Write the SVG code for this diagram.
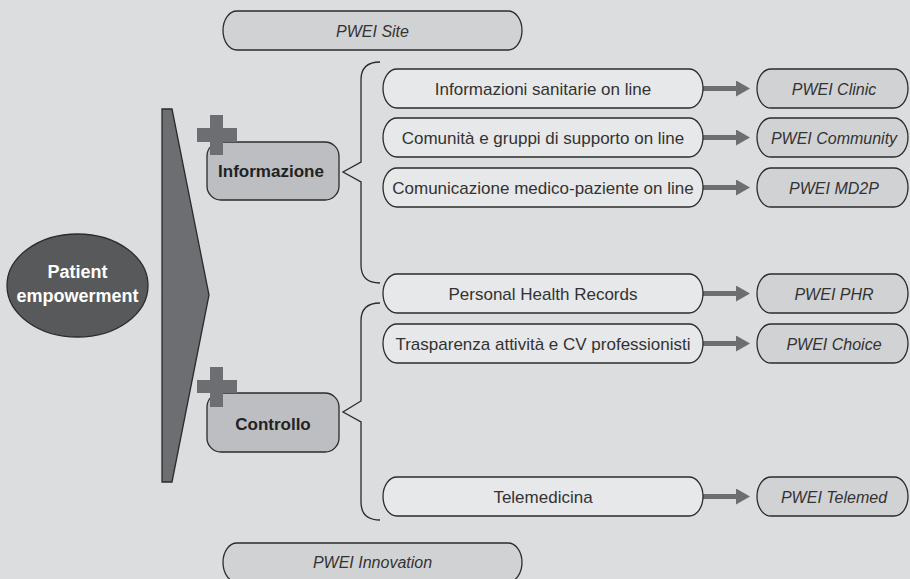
<svg xmlns="http://www.w3.org/2000/svg" width="910" height="579" viewBox="0 0 910 579">
<defs>
<style>
.bg{fill:#dcdddf}
.pill{fill:#e7e8e9;stroke:#2b2b2b;stroke-width:1.3}
.pwei{fill:#d1d2d4;stroke:#2b2b2b;stroke-width:1.3}
.box{fill:#bdbec1;stroke:#2b2b2b;stroke-width:1.3}
.plus{fill:#6d6e71}
.t{font-family:"Liberation Sans",Arial,sans-serif;font-size:17px;fill:#333;text-anchor:middle}
.ti{font-family:"Liberation Sans",Arial,sans-serif;font-size:16px;font-style:italic;fill:#333;text-anchor:middle}
.tb{font-family:"Liberation Sans",Arial,sans-serif;font-size:17px;font-weight:bold;fill:#222;text-anchor:middle}
.tw{font-family:"Liberation Sans",Arial,sans-serif;font-size:18px;font-weight:bold;fill:#fff;text-anchor:middle}
.brace{fill:none;stroke:#2b2b2b;stroke-width:1.3}
.arr{stroke:#6d6e71;stroke-width:5;marker-end:url(#ah)}
</style>
<marker id="ah" markerWidth="14" markerHeight="16" refX="0" refY="8" orient="auto" markerUnits="userSpaceOnUse">
<path d="M0,0 L14,8 L0,16 Z" fill="#6d6e71"/>
</marker>
</defs>
<rect class="bg" x="0" y="0" width="910" height="579"/>

<g id="pwei-site">
<rect class="pwei" x="223" y="11" width="299" height="39" rx="14" ry="19.5"/>
<text class="ti" x="372.5" y="36.5">PWEI Site</text>
</g>

<g id="patient-empowerment">
<ellipse cx="77.5" cy="285.5" rx="70.5" ry="51.5" fill="#58595b" stroke="#2b2b2b" stroke-width="1.3"/>
<text class="tw" x="77.5" y="278">Patient</text>
<text class="tw" x="77.5" y="302">empowerment</text>
</g>

<g id="wedge">
<polygon points="162,109 172,109 209,295 172,482 162,482" fill="#6d6e71" stroke="#2b2b2b" stroke-width="1.3"/>
</g>

<g id="informazione">
<rect class="box" x="207" y="142" width="132" height="58" rx="14"/>
<path class="plus" d="M210,115 H223 V128 H237 V142 H223 V155 H210 V142 H197 V128 H210 Z"/>
<text class="tb" x="271" y="177">Informazione</text>
</g>

<g id="controllo">
<rect class="box" x="207" y="393" width="132" height="59" rx="14"/>
<path class="plus" d="M210,367 H223 V380 H237 V393 H223 V407 H210 V393 H197 V380 H210 Z"/>
<text class="tb" x="273" y="430">Controllo</text>
</g>

<g id="connectors">
<path class="brace" d="M380,62 C368,62 361,68 361,80 L361,162 L343,172 L361,182 L361,265 C361,277 368,283 380,283"/>
<path class="brace" d="M380,303 C368,303 361,309 361,321 L361,401 L343,412 L361,422 L361,502 C361,514 368,520 380,520"/>
<line class="arr" x1="703" y1="88.5" x2="736" y2="88.5"/>
<line class="arr" x1="703" y1="137.5" x2="736" y2="137.5"/>
<line class="arr" x1="703" y1="187.5" x2="736" y2="187.5"/>
<line class="arr" x1="703" y1="293.5" x2="736" y2="293.5"/>
<line class="arr" x1="703" y1="343.5" x2="736" y2="343.5"/>
<line class="arr" x1="703" y1="496.5" x2="736" y2="496.5"/>
</g>

<g id="info-sanitarie">
<rect class="pill" x="383" y="69" width="320" height="39" rx="14" ry="19.5"/>
<text class="t" x="543" y="94.5">Informazioni sanitarie on line</text>
</g>
<g id="comunita">
<rect class="pill" x="383" y="118" width="320" height="39" rx="14" ry="19.5"/>
<text class="t" x="543" y="143.5">Comunità e gruppi di supporto on line</text>
</g>
<g id="comunicazione">
<rect class="pill" x="383" y="168" width="320" height="39" rx="14" ry="19.5"/>
<text class="t" x="543" y="193.5">Comunicazione medico-paziente on line</text>
</g>
<g id="phr">
<rect class="pill" x="383" y="274" width="320" height="39" rx="14" ry="19.5"/>
<text class="t" x="543" y="299.5">Personal Health Records</text>
</g>
<g id="trasparenza">
<rect class="pill" x="383" y="324" width="320" height="39" rx="14" ry="19.5"/>
<text class="t" x="543" y="349.5">Trasparenza attività e CV professionisti</text>
</g>
<g id="telemedicina">
<rect class="pill" x="383" y="477" width="320" height="39" rx="14" ry="19.5"/>
<text class="t" x="543" y="502.5">Telemedicina</text>
</g>

<g id="pwei-clinic">
<rect class="pwei" x="757" y="69" width="151" height="39" rx="14" ry="19.5"/>
<text class="ti" x="834" y="94.5">PWEI Clinic</text>
</g>
<g id="pwei-community">
<rect class="pwei" x="757" y="118" width="151" height="39" rx="14" ry="19.5"/>
<text class="ti" x="834" y="143.5">PWEI Community</text>
</g>
<g id="pwei-md2p">
<rect class="pwei" x="757" y="168" width="151" height="39" rx="14" ry="19.5"/>
<text class="ti" x="834" y="193.5">PWEI MD2P</text>
</g>
<g id="pwei-phr">
<rect class="pwei" x="757" y="274" width="151" height="39" rx="14" ry="19.5"/>
<text class="ti" x="834" y="299.5">PWEI PHR</text>
</g>
<g id="pwei-choice">
<rect class="pwei" x="757" y="324" width="151" height="39" rx="14" ry="19.5"/>
<text class="ti" x="834" y="349.5">PWEI Choice</text>
</g>
<g id="pwei-telemed">
<rect class="pwei" x="757" y="477" width="151" height="39" rx="14" ry="19.5"/>
<text class="ti" x="834" y="502.5">PWEI Telemed</text>
</g>

<g id="pwei-innovation">
<rect class="pwei" x="223" y="543" width="299" height="39" rx="14" ry="19.5"/>
<text class="ti" x="372.5" y="568">PWEI Innovation</text>
</g>
</svg>
